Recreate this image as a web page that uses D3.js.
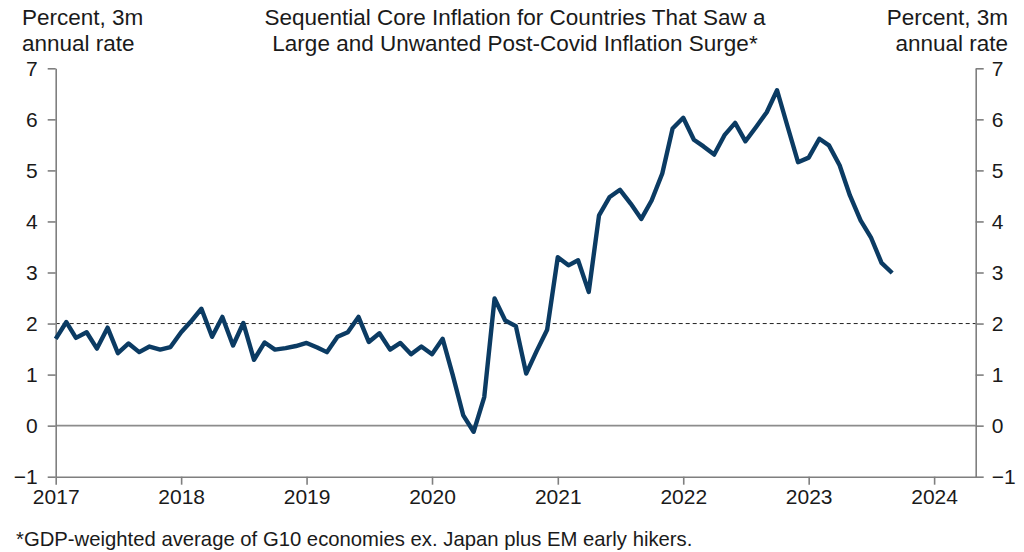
<!DOCTYPE html>
<html><head><meta charset="utf-8">
<script src="https://cdn.jsdelivr.net/npm/d3@7"></script>
<style>
html,body{margin:0;padding:0;background:#fff;}
svg{display:block;font-family:"Liberation Sans",Arial,sans-serif;}
</style></head>
<body>
<svg id="chart" width="1024" height="552"></svg>
<script>
// ---- data ----
const startMonth = "2017-01";
const values = [
  1.70, 2.03, 1.72, 1.83, 1.51, 1.92, 1.42, 1.61, 1.44, 1.55, 1.49, 1.54,
  1.83, 2.06, 2.29, 1.74, 2.13, 1.57, 2.01, 1.29, 1.63, 1.49, 1.52, 1.56,
  1.62, 1.53, 1.44, 1.74, 1.83, 2.13, 1.64, 1.81, 1.49, 1.62, 1.40, 1.55,
  1.40, 1.70, 1.00, 0.20, -0.12, 0.56, 2.49, 2.06, 1.95, 1.02, 1.47, 1.88,
  3.30, 3.14, 3.24, 2.62, 4.12, 4.48, 4.62, 4.35, 4.05, 4.41, 4.94, 5.82,
  6.03, 5.60, 5.47, 5.31, 5.69, 5.93, 5.57, 5.85, 6.14, 6.57, 5.85, 5.16,
  5.25, 5.62, 5.49, 5.10, 4.51, 4.02, 3.69, 3.19, 2.99
];
const yTicks = [-1, 0, 1, 2, 3, 4, 5, 6, 7];
const xTickYears = [2017, 2018, 2019, 2020, 2021, 2022, 2023, 2024];
const targetLevel = 2;
const titleLines = ["Sequential Core Inflation for Countries That Saw a",
                    "Large and Unwanted Post-Covid Inflation Surge*"];
const unitLines = ["Percent, 3m", "annual rate"];
const footnote = "*GDP-weighted average of G10 economies ex. Japan plus EM early hikers.";

// ---- build ----
const parse = d3.timeParse("%Y-%m");
const t0 = parse(startMonth);
const data = values.map((v, i) => ({date: d3.timeMonth.offset(t0, i), value: v}));

const svg = d3.select("#chart");
const L = 55.7, R = 975.7, T = 68.3, B = 476.7;

const x = d3.scaleTime()
  .domain([new Date(2017, 0, 1), new Date(2024, 4, 1)])
  .range([L, R]);
const y = d3.scaleLinear().domain([-1, 7]).range([B, T]);

const axisColor = "#7f7f7f";
const textColor = "#1a1a1a";
const fs = 21;

// zero line
svg.append("line")
  .attr("x1", L).attr("x2", R)
  .attr("y1", y(0)).attr("y2", y(0))
  .attr("stroke", "#8c8c8c").attr("stroke-width", 1.6);

// dashed 2% line
svg.append("line")
  .attr("x1", L).attr("x2", R)
  .attr("y1", y(targetLevel)).attr("y2", y(targetLevel))
  .attr("stroke", "#222").attr("stroke-width", 1)
  .attr("stroke-dasharray", "4,3");

function styleAxis(g) {
  g.selectAll("path.domain").attr("stroke", axisColor).attr("stroke-width", 1.6);
  g.selectAll(".tick line").attr("stroke", axisColor).attr("stroke-width", 1.6);
  g.selectAll(".tick text").attr("fill", textColor)
    .style("font-size", fs + "px")
    .style("font-family", '"Liberation Sans", Arial, sans-serif');
}

const yl = svg.append("g").attr("transform", `translate(${L},0)`)
  .call(d3.axisLeft(y).tickValues(yTicks).tickSize(8).tickSizeOuter(0).tickPadding(10).tickFormat(d3.format("d")));
styleAxis(yl);

const yr = svg.append("g").attr("transform", `translate(${R},0)`)
  .call(d3.axisRight(y).tickValues(yTicks).tickSize(8).tickSizeOuter(0).tickPadding(8).tickFormat(d3.format("d")));
styleAxis(yr);

const xa = svg.append("g").attr("transform", `translate(0,${B})`)
  .call(d3.axisBottom(x).tickValues(xTickYears.map(yy => new Date(yy, 0, 1))).tickSize(8).tickSizeOuter(0).tickPadding(4).tickFormat(d3.timeFormat("%Y")));
styleAxis(xa);

// line
const line = d3.line().x(d => x(d.date)).y(d => y(d.value));
svg.append("path").datum(data)
  .attr("d", line)
  .attr("fill", "none")
  .attr("stroke", "#0b3b63")
  .attr("stroke-width", 4.4)
  .attr("stroke-linejoin", "round")
  .attr("stroke-linecap", "butt");

// titles
const tfs = "22.5px";
const tt = svg.append("text").attr("text-anchor", "middle").attr("fill", textColor)
  .style("font-size", tfs);
titleLines.forEach((s, i) => tt.append("tspan").attr("x", 515).attr("y", 25 + i * 26).text(s));

const ul = svg.append("text").attr("text-anchor", "start").attr("fill", textColor).style("font-size", tfs);
unitLines.forEach((s, i) => ul.append("tspan").attr("x", 22).attr("y", 25 + i * 26).text(s));

const ur = svg.append("text").attr("text-anchor", "end").attr("fill", textColor).style("font-size", tfs);
unitLines.forEach((s, i) => ur.append("tspan").attr("x", 1008).attr("y", 25 + i * 26).text(s));

svg.append("text").attr("x", 16).attr("y", 546).attr("fill", textColor)
  .style("font-size", "20.3px").text(footnote);
</script>
</body></html>
